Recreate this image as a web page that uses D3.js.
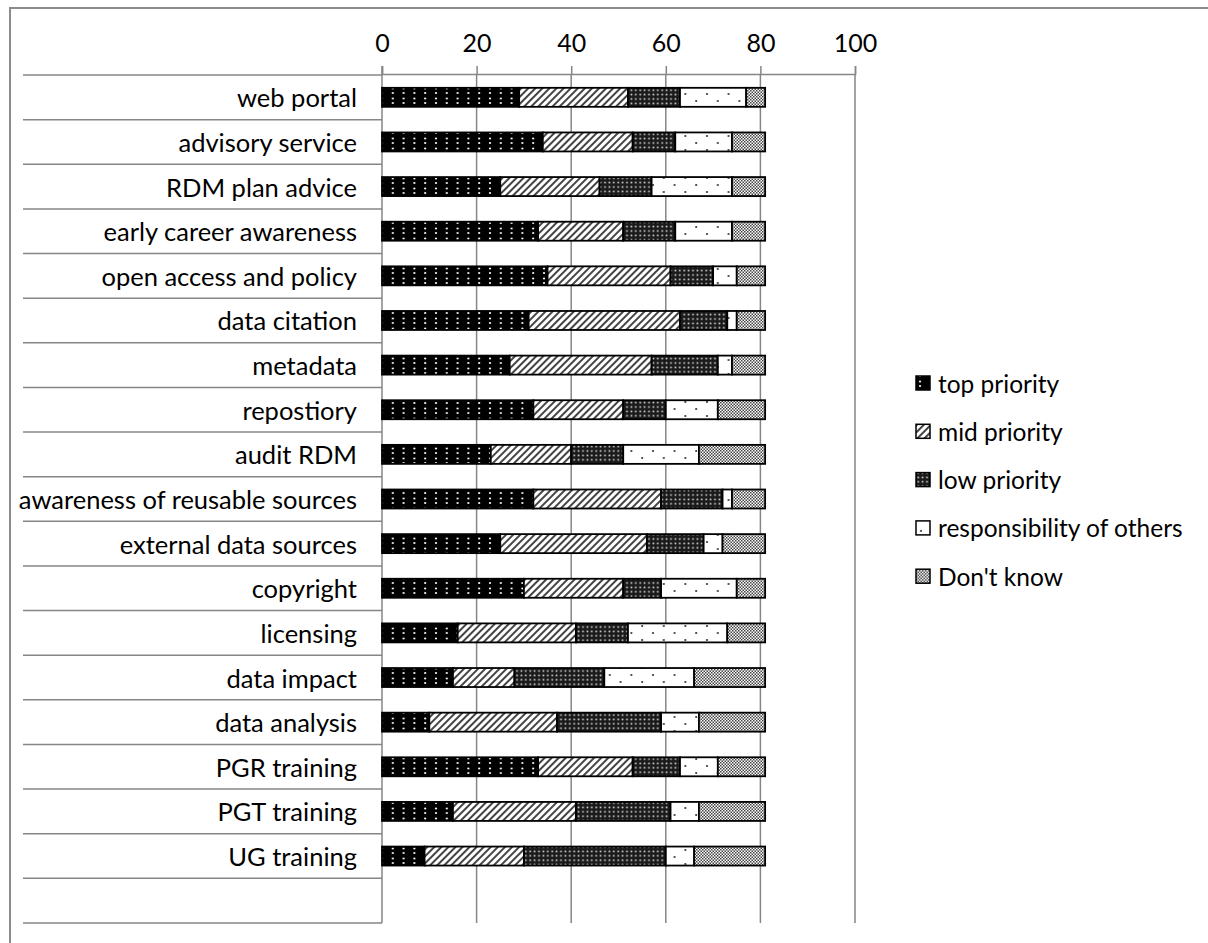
<!DOCTYPE html>
<html>
<head>
<meta charset="utf-8">
<script src="https://cdn.jsdelivr.net/npm/d3@7"></script>
<style>
  html, body { margin: 0; padding: 0; background: #fff; }
  svg { display: block; font-family: Lato, "Liberation Sans", sans-serif; }
</style>
</head>
<body>
<svg id="chart" width="1208" height="943"></svg>
<script>
// Survey responses per RDM service area (number of respondents)
const categories = [
  "web portal", "advisory service", "RDM plan advice", "early career awareness",
  "open access and policy", "data citation", "metadata", "repostiory", "audit RDM",
  "awareness of reusable sources", "external data sources", "copyright", "licensing",
  "data impact", "data analysis", "PGR training", "PGT training", "UG training"
];
const seriesNames = ["top priority", "mid priority", "low priority", "responsibility of others", "Don't know"];
const topPriority  = [29, 34, 25, 33, 35, 31, 27, 32, 23, 32, 25, 30, 16, 15, 10, 33, 15, 9];
const midPriority  = [23, 19, 21, 18, 26, 32, 30, 19, 17, 27, 31, 21, 25, 13, 27, 20, 26, 21];
const lowPriority  = [11,  9, 11, 11,  9, 10, 14,  9, 11, 13, 12,  8, 11, 19, 22, 10, 20, 30];
const othersResp   = [14, 12, 17, 12,  5,  2,  3, 11, 16,  2,  4, 16, 21, 19,  8,  8,  6,  6];
const dontKnow     = [ 4,  7,  7,  7,  6,  6,  7, 10, 14,  7,  9,  6,  8, 15, 14, 10, 14, 15];
const xTicks = [0, 20, 40, 60, 80, 100];

const svg = d3.select("#chart");
const grid = "#868686";

// Pattern fills for the five response types
const defs = svg.append("defs");
// top priority: black with staggered white dots
let p = defs.append("pattern").attr("id", "pat0").attr("patternUnits", "userSpaceOnUse")
  .attr("width", 21.6).attr("height", 10);
p.append("rect").attr("width", 21.6).attr("height", 10).attr("fill", "#000");
p.append("circle").attr("cx", 4).attr("cy", 3).attr("r", 1.1).attr("fill", "#fff");
p.append("circle").attr("cx", 14.8).attr("cy", 3).attr("r", 1.1).attr("fill", "#fff");
p.append("circle").attr("cx", 4).attr("cy", 8.5).attr("r", 1.1).attr("fill", "#fff");
p.append("circle").attr("cx", 14.8).attr("cy", 8.5).attr("r", 1.1).attr("fill", "#fff");
// mid priority: diagonal hatch
p = defs.append("pattern").attr("id", "pat1").attr("patternUnits", "userSpaceOnUse")
  .attr("width", 5).attr("height", 5).attr("patternTransform", "rotate(45)");
p.append("rect").attr("width", 5).attr("height", 5).attr("fill", "#fff");
p.append("line").attr("x1", 1).attr("y1", 0).attr("x2", 1).attr("y2", 5)
  .attr("stroke", "#222").attr("stroke-width", 1.7);
// low priority: dark grid with white dots
p = defs.append("pattern").attr("id", "pat2").attr("patternUnits", "userSpaceOnUse")
  .attr("width", 4.4).attr("height", 4.4);
p.append("rect").attr("width", 4.4).attr("height", 4.4).attr("fill", "#1a1a1a");
p.append("rect").attr("x", 1.4).attr("y", 1.4).attr("width", 1.6).attr("height", 1.6).attr("fill", "#ddd");
// responsibility of others: white with sparse dots
p = defs.append("pattern").attr("id", "pat3").attr("patternUnits", "userSpaceOnUse")
  .attr("width", 21.6).attr("height", 14);
p.append("rect").attr("width", 21.6).attr("height", 14).attr("fill", "#fff");
p.append("circle").attr("cx", 5).attr("cy", 3).attr("r", 1).attr("fill", "#222");
p.append("circle").attr("cx", 15.8).attr("cy", 10).attr("r", 1).attr("fill", "#222");
// Don't know: fine checker
p = defs.append("pattern").attr("id", "pat4").attr("patternUnits", "userSpaceOnUse")
  .attr("width", 3).attr("height", 3);
p.append("rect").attr("width", 3).attr("height", 3).attr("fill", "#fff");
p.append("rect").attr("width", 1.5).attr("height", 1.5).attr("fill", "#444");
p.append("rect").attr("x", 1.5).attr("y", 1.5).attr("width", 1.5).attr("height", 1.5).attr("fill", "#444");

// Outer chart border
svg.append("rect").attr("x", 10).attr("y", 8).attr("width", 1210).attr("height", 960)
  .attr("fill", "none").attr("stroke", "#8c8c8c").attr("stroke-width", 2);

// Scales
const x = d3.scaleLinear().domain([0, 100]).range([382, 855]);
const rows = categories.concat([" "]);
const y = d3.scaleBand().domain(rows).range([75, 923]).paddingInner(0).paddingOuter(0);
const barH = 19;

// Vertical gridlines
svg.append("g").selectAll("line").data(xTicks.filter(d => d > 0)).join("line")
  .attr("x1", d => x(d)).attr("x2", d => x(d)).attr("y1", 74).attr("y2", 923)
  .attr("stroke", grid).attr("stroke-width", 1.5);

// Category separator lines
const bounds = d3.range(rows.length + 1).map(i => i === rows.length ? y.range()[1] : y(rows[i]));
svg.append("g").selectAll("line").data(bounds).join("line")
  .attr("x1", 23).attr("x2", 382).attr("y1", d => d).attr("y2", d => d)
  .attr("stroke", grid).attr("stroke-width", 1.5);

// Top value axis
const xAxis = svg.append("g").attr("transform", "translate(0,74)")
  .call(d3.axisTop(x).tickValues(xTicks).tickSize(8).tickPadding(14).tickFormat(d3.format("d")));
xAxis.select(".domain").attr("stroke", grid).attr("stroke-width", 1.5);
xAxis.selectAll(".tick line").attr("stroke", grid).attr("stroke-width", 1.5);
xAxis.selectAll(".tick text").attr("font-size", 25).attr("fill", "#000")
  .attr("font-family", "Lato, sans-serif");

// Category axis line
svg.append("line").attr("x1", x(0)).attr("x2", x(0)).attr("y1", 66).attr("y2", 923)
  .attr("stroke", grid).attr("stroke-width", 1.5);

// Category labels
svg.append("g").selectAll("text").data(categories).join("text")
  .attr("x", 357).attr("y", d => y(d) + y.bandwidth() / 2)
  .attr("text-anchor", "end").attr("dominant-baseline", "central")
  .attr("font-size", 25.5).attr("fill", "#000").text(d => d);

// Stacked bars
const table = categories.map((c, i) => ({
  category: c,
  "top priority": topPriority[i],
  "mid priority": midPriority[i],
  "low priority": lowPriority[i],
  "responsibility of others": othersResp[i],
  "Don't know": dontKnow[i]
}));
const stacked = d3.stack().keys(seriesNames)(table);
svg.append("g").selectAll("g").data(stacked).join("g")
  .attr("fill", (d, i) => `url(#pat${i})`)
  .selectAll("rect").data(d => d).join("rect")
  .attr("x", d => x(d[0])).attr("width", d => x(d[1]) - x(d[0]))
  .attr("y", d => y(d.data.category) + (y.bandwidth() - barH) / 2)
  .attr("height", barH)
  .attr("stroke", "#000").attr("stroke-width", 1.8);

// Legend
const legend = svg.append("g").selectAll("g").data(seriesNames).join("g")
  .attr("transform", (d, i) => `translate(916,${383 + i * 48.3})`);
legend.append("rect").attr("x", 0).attr("y", -7).attr("width", 14).attr("height", 14)
  .attr("fill", (d, i) => `url(#pat${i})`).attr("stroke", "#000").attr("stroke-width", 1.5);
legend.append("text").attr("x", 22).attr("y", 0).attr("dominant-baseline", "central")
  .attr("font-size", 24.5).attr("fill", "#000").text(d => d);
</script>
</body>
</html>
